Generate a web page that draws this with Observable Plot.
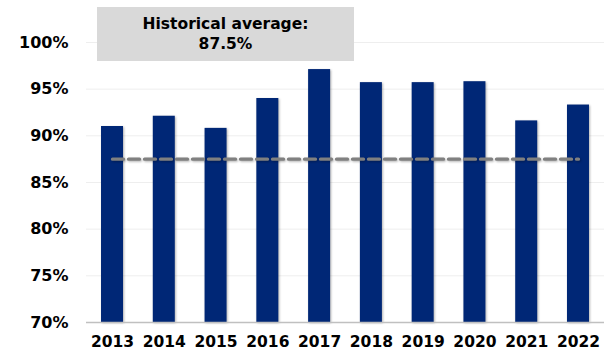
<!DOCTYPE html>
<html>
<head>
<meta charset="utf-8">
<script src="https://cdn.jsdelivr.net/npm/d3@7"></script>
<script src="https://cdn.jsdelivr.net/npm/@observablehq/plot@0.6"></script>
<style>
  html, body { margin: 0; padding: 0; background: #fff; }
  #chart svg { display: block; }
  .shadowed { filter: drop-shadow(1.5px 1px 1.2px rgba(0,0,0,0.3)); }
</style>
</head>
<body>
<div id="chart"></div>
<script>
const years = ["2013","2014","2015","2016","2017","2018","2019","2020","2021","2022"];
const values = [0.910, 0.921, 0.908, 0.940, 0.971, 0.957, 0.957, 0.958, 0.916, 0.933];
const historicalAverage = 0.875;
const yTicks = [0.70, 0.75, 0.80, 0.85, 0.90, 0.95, 1.00];
const annotationLabel = "Historical average:";

const bars = years.map((year, i) => ({year, value: values[i]}));
const avgLine = years.map(year => ({year, value: historicalAverage}));

const annotation = (index, scales, values, dims) => {
  const g = d3.create("svg:g");
  const x0 = 97, x1 = 354, y0 = 7, y1 = 61, cx = (x0 + x1) / 2;
  g.append("rect").attr("x", x0).attr("y", y0).attr("width", x1 - x0).attr("height", y1 - y0).attr("fill", "#d9d9d9");
  g.append("text").attr("x", cx).attr("y", 24).attr("dy", "0.35em").attr("text-anchor", "middle")
    .attr("font-size", 15.5).attr("font-weight", "bold").attr("fill", "#000").text(annotationLabel);
  g.append("text").attr("x", cx).attr("y", 43.5).attr("dy", "0.35em").attr("text-anchor", "middle")
    .attr("font-size", 15.5).attr("font-weight", "bold").attr("fill", "#000").text(d3.format(".1%")(historicalAverage));
  return g.node();
};

const chart = Plot.plot({
  width: 608,
  height: 351,
  marginLeft: 86,
  marginRight: 4,
  marginTop: 42,
  marginBottom: 29,
  style: {fontFamily: "'DejaVu Sans', Verdana, sans-serif", fontWeight: "bold", color: "#000", background: "#fff"},
  x: {domain: years, paddingInner: 0.575, paddingOuter: 0.29, round: false, label: null},
  y: {domain: [0.70, 1.00], label: null},
  marks: [
    Plot.gridY(yTicks, {stroke: "#eeeeee", strokeOpacity: 1, strokeWidth: 1}),
    Plot.barY(bars, {x: "year", y1: 0.70, y2: "value", fill: "#002776", className: "shadowed"}),
    Plot.ruleY([0.70], {stroke: "#c0c0c0", strokeWidth: 1.5}),
    Plot.line(avgLine, {x: "year", y: "value", stroke: "#808080", strokeWidth: 3.3, strokeDasharray: "11 5", className: "shadowed"}),
    Plot.axisY(yTicks, {tickSize: 0, tickPadding: 18, tickFormat: d3.format(".0%"), fontSize: 16, fontWeight: "bold", fill: "#000"}),
    Plot.axisX({tickSize: 0, tickPadding: 13.5, fontSize: 15.5, fontWeight: "bold", fill: "#000"}),
    annotation
  ]
});
document.getElementById("chart").appendChild(chart);
</script>
</body>
</html>
